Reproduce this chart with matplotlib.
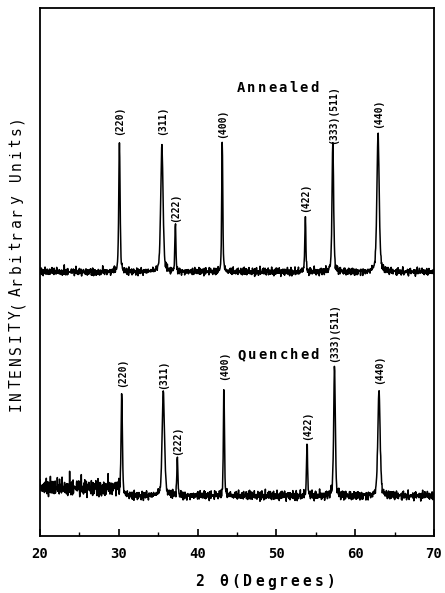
import numpy as np
import matplotlib
matplotlib.use("Agg")
from matplotlib import pyplot as plt

W, H = 445, 593
MONO = "DejaVu Sans Mono"

# peak positions (2 theta, deg) and heights above background (arb. units)
HKL = ["(220)", "(311)", "(222)", "(400)", "(422)", "(333)(511)", "(440)"]
ANN_POS = [30.08, 35.47, 37.18, 43.13, 53.67, 57.16, 62.90]
ANN_HEIGHT = [129, 127, 46, 130, 55, 128, 138]
ANN_LABEL_Y = [401, 401, 314, 398, 324, 392, 408]
QUE_POS = [30.37, 35.65, 37.43, 43.34, 53.89, 57.37, 63.02]
QUE_HEIGHT = [104, 105, 38, 110, 53, 129, 106]
QUE_LABEL_Y = [149, 147, 81, 156, 96, 174, 152]
PEAK_HWHM = [0.10, 0.17, 0.08, 0.08, 0.08, 0.12, 0.17]

# background level / noise amplitude per 2theta band
ANN_BAND_EDGES = [20, 70]
ANN_BG = [264]
ANN_NOISE_AMP = [3.2]
QUE_BAND_EDGES = [20, 30, 70]
QUE_BG = [48, 40]
QUE_NOISE_AMP = [7.5, 3.8]

# hand-read jitter of the counting noise (mostly small, a few spikes)
NOISE_1 = [0.2, -0.4, 0.1, 0.9, -0.2, 0.0, -0.5, 0.3, -0.1, 0.4, -1.0, 0.2, 0.1, -0.3, 0.5,
           -0.2, 1.2, 0.0, -0.4, 0.3, -0.1, 0.2, -0.6, 0.1, 0.4, -0.2, 0.0, 0.8, -0.3, 0.1,
           -0.1, 0.3, -0.9, 0.2, -0.2, 0.5, 0.0, -0.3, 1.0, -0.1, 0.2, -0.4, 0.1, 0.3, -0.2,
           0.6, -0.1, 0.0, -0.7, 0.2, 0.4, -0.3, 0.1, 1.1, -0.2, 0.0, -0.5, 0.3, -0.1, 0.2, -0.8]
NOISE_2 = [0.5, -0.2, -0.7, 0.8, 0.1, -0.4, 0.3, -0.9, 0.6, 0.0, -0.3, 0.9, -0.6, 0.2, 0.4,
           -0.8, 0.7, -0.1, -0.5, 1.0, -0.2, 0.3, -0.7, 0.6, 0.1, -0.4, 0.8, -0.9, 0.2, 0.5,
           -0.3, 0.0, 0.7, -0.6, 0.4, -0.1, -0.8]
NOISE_3 = [0.0, 0.6, -0.3, 0.0, 0.0, -0.8, 0.2, 0.0, 0.9, -0.2, 0.0, 0.0, -0.5, 0.3, 0.0,
           0.7, 0.0, -0.6, 0.0, 0.1, 0.0, -0.2, 0.4]

STEP = 0.04


def pattern(pos, height, edges, bg, amp, shift):
    x = np.arange(20.0, 70.0 + 1e-9, STEP)
    n = len(x)
    noise = (np.roll(np.resize(NOISE_1, n), shift)
             + 0.5 * np.roll(np.resize(NOISE_2, n), shift)
             + 0.7 * np.roll(np.resize(NOISE_3, n), shift))
    band = np.clip(np.searchsorted(edges, x, side="right") - 1, 0, len(bg) - 1)
    y = np.asarray(bg)[band] + np.asarray(amp)[band] * noise
    for p, h, w in zip(pos, height, PEAK_HWHM):
        lor = 1.0 / (1.0 + ((x - p) / w) ** 2)
        gau = np.exp(-np.log(2) * ((x - p) / w) ** 2)
        y = y + h * (0.55 * gau + 0.45 * lor)
    return x, y


def spaced(fig, s, x0, y0, pitch, vertical=False, **kw):
    # typewriter style: one character per slot, pixel coords from top-left
    for i, ch in enumerate(s):
        if vertical:
            px, py, rot = x0, y0 - i * pitch, 90
        else:
            px, py, rot = x0 + i * pitch, y0, 0
        fig.text(px / W, 1 - py / H, ch, rotation=rot, ha="center", va="center",
                 family=MONO, **kw)


fig = plt.figure(figsize=(W / 100, H / 100), dpi=100)
ax = fig.add_axes([40 / W, 1 - 536 / H, (434 - 40) / W, (536 - 8) / H])

xa, ya = pattern(ANN_POS, ANN_HEIGHT, ANN_BAND_EDGES, ANN_BG, ANN_NOISE_AMP, 0)
xq, yq = pattern(QUE_POS, QUE_HEIGHT, QUE_BAND_EDGES, QUE_BG, QUE_NOISE_AMP, 17)
ax.plot(xa, ya, color="black", lw=1.1)
ax.plot(xq, yq, color="black", lw=1.1)

for lab, p, ly in zip(HKL, ANN_POS, ANN_LABEL_Y):
    ax.text(p, ly, lab, rotation=90, ha="center", va="bottom", fontsize=7,
            family=MONO, fontweight="bold")
for lab, p, ly in zip(HKL, QUE_POS, QUE_LABEL_Y):
    ax.text(p, ly, lab, rotation=90, ha="center", va="bottom", fontsize=7,
            family=MONO, fontweight="bold")

ax.set_xlim(20, 70)
ax.set_ylim(0, 528)
ax.set_xticks(range(20, 71, 10))
ax.set_xticks(range(25, 70, 10), minor=True)
ax.tick_params(axis="x", which="major", direction="in", length=5, width=1.2, pad=8,
               labelsize=10, top=False)
ax.tick_params(axis="x", which="minor", direction="in", length=3, width=1.0, top=False)
ax.tick_params(axis="y", left=False, labelleft=False)
for lbl in ax.get_xticklabels():
    lbl.set_family(MONO)
    lbl.set_fontweight("bold")
for sp in ax.spines.values():
    sp.set_linewidth(1.3)

spaced(fig, "Annealed", 241, 88, 10.5, fontsize=10, fontweight="bold")
spaced(fig, "Quenched", 242, 355, 10.4, fontsize=10, fontweight="bold")
spaced(fig, "INTENSITY(Arbitrary Units)", 16, 407, 11.5, vertical=True, fontsize=10.5)
spaced(fig, "2 θ(Degrees)", 200, 582, 11.9, fontsize=10.5, fontweight="bold")

fig.savefig("out.png", dpi=100)
